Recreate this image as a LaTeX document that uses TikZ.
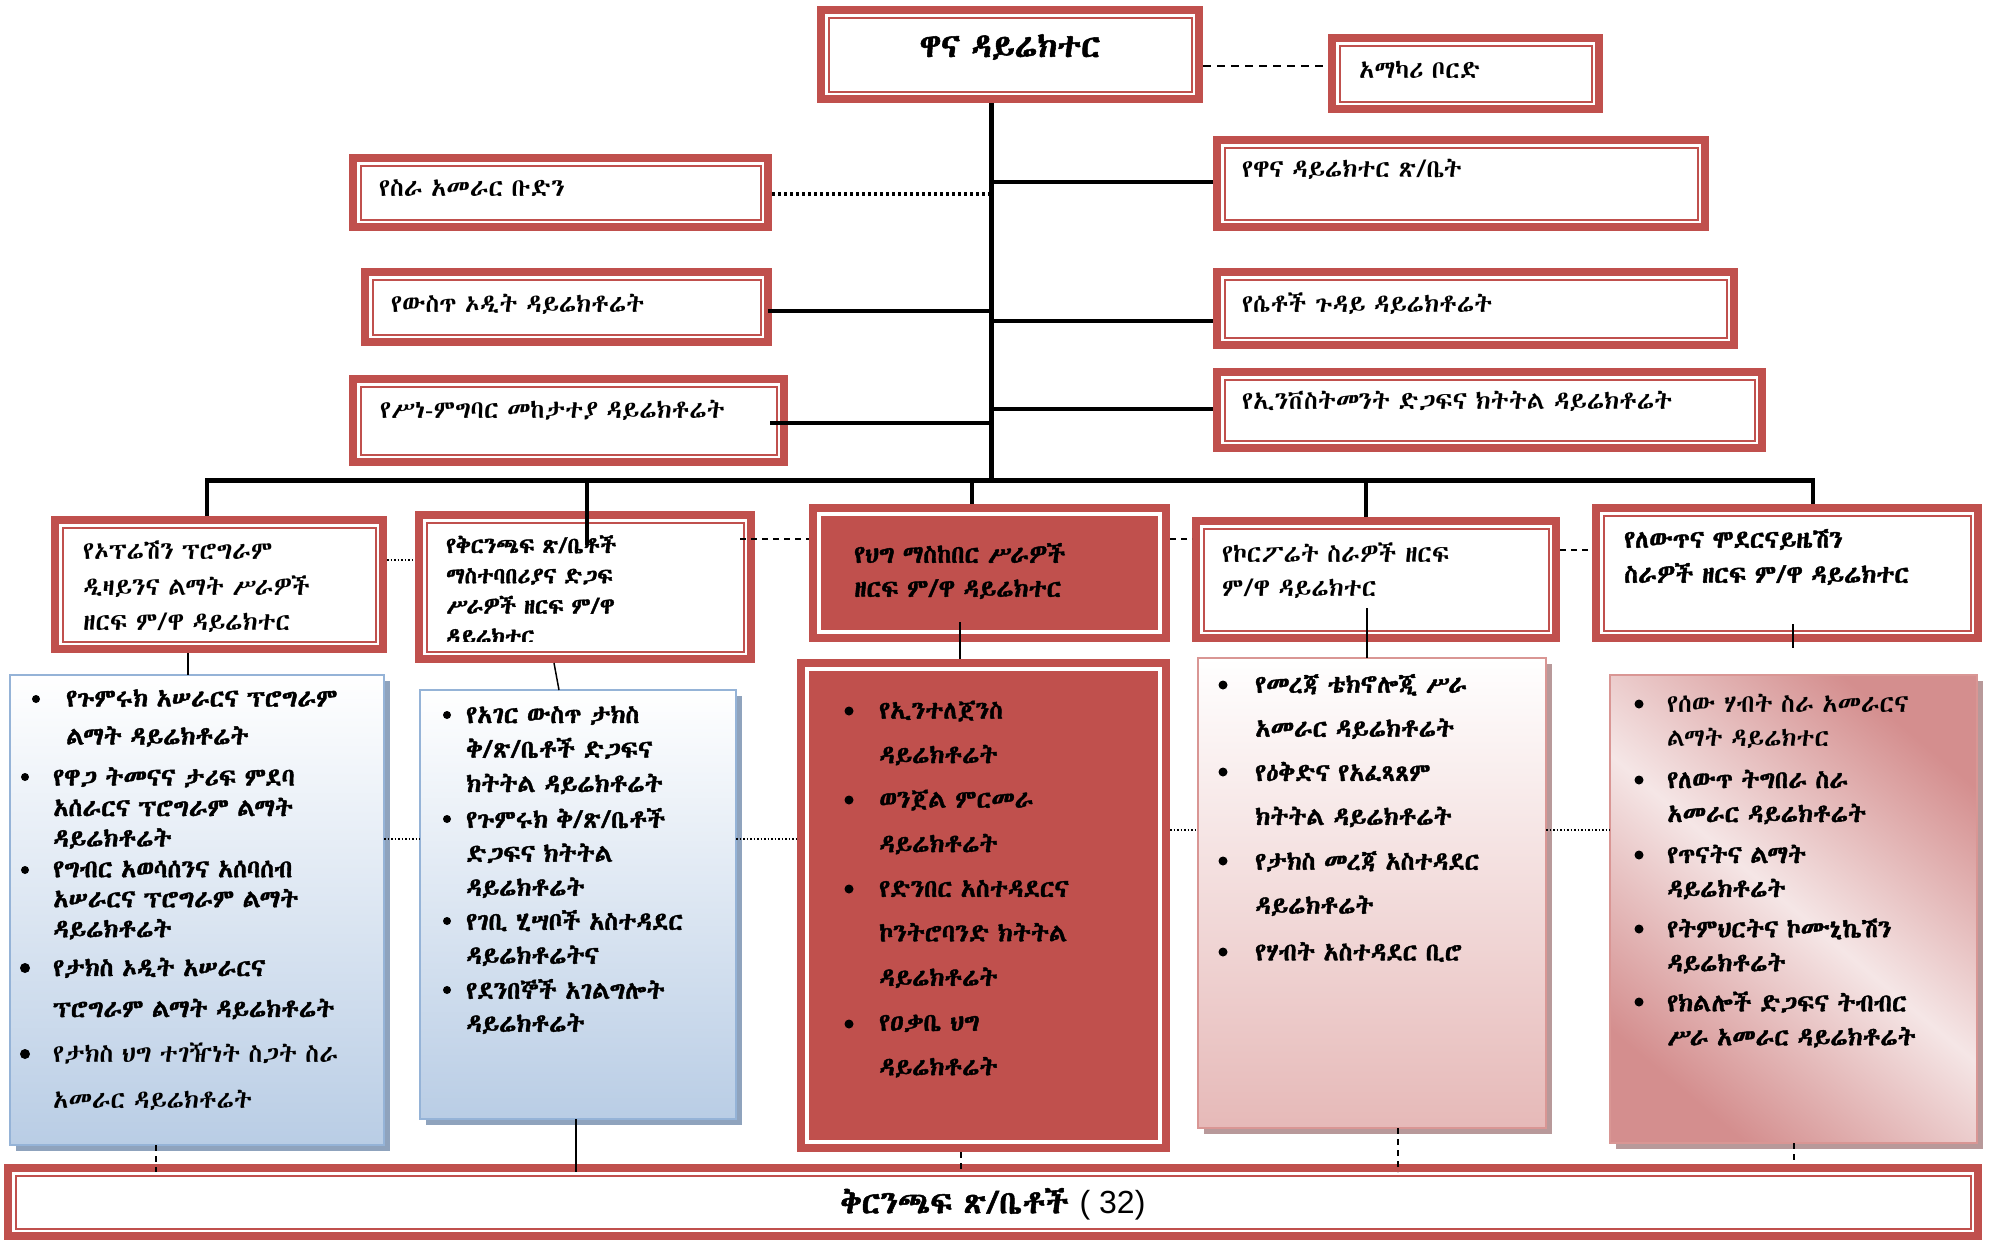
\documentclass[tikz,border=0pt]{standalone}
\usepackage{fontspec}
\usetikzlibrary{fit,calc}
\IfFontExistsTF{Abyssinica SIL}{\newfontfamily\eth[AutoFakeBold=1.6,WordSpace=0.75]{Abyssinica SIL}}{%
 \IfFontExistsTF{FreeSerif}{\newfontfamily\eth[AutoFakeBold=1.6,WordSpace=0.75]{FreeSerif}}{\newfontfamily\eth{DejaVu Sans}}}
\newfontfamily\lat{Liberation Sans}
\definecolor{cred}{HTML}{C0504D}
\definecolor{bluebot}{HTML}{B9CDE5}
\definecolor{blueedge}{HTML}{95B3D7}
\definecolor{blueshadow}{HTML}{8FA3BD}
\definecolor{pinkbot}{HTML}{E6B9B8}
\definecolor{pinkedge}{HTML}{D99694}
\definecolor{pinkshadow}{HTML}{B8999A}
\definecolor{rosedark}{HTML}{D48E8E}
\definecolor{roselight}{HTML}{F5E6E6}
\newcommand\dfr[1]{%
 \fill[cred] (#1.north west) rectangle (#1.south east);
 \fill[white] ([xshift=8pt,yshift=-8pt]#1.north west) rectangle ([xshift=-8pt,yshift=8pt]#1.south east);
 \fill[cred] ([xshift=10.5pt,yshift=-10.5pt]#1.north west) rectangle ([xshift=-10.5pt,yshift=10.5pt]#1.south east);
 \fill[white] ([xshift=12.5pt,yshift=-12.5pt]#1.north west) rectangle ([xshift=-12.5pt,yshift=12.5pt]#1.south east);}
\newcommand\ffr[1]{%
 \fill[cred] (#1.north west) rectangle (#1.south east);
 \fill[white] ([xshift=8pt,yshift=-8pt]#1.north west) rectangle ([xshift=-8pt,yshift=8pt]#1.south east);
 \fill[cred] ([xshift=12pt,yshift=-12pt]#1.north west) rectangle ([xshift=-12pt,yshift=12pt]#1.south east);}
\newcommand\shadowbox[2]{%
 \fill[#2] ([xshift=6pt,yshift=-6pt]#1.north west) rectangle ([xshift=6pt,yshift=-6pt]#1.south east);}
\begin{document}
\begin{tikzpicture}[x=1pt,y=-1pt,
 bx/.style={inner sep=0pt, outer sep=0pt, draw=none},
 bt/.style={inner sep=0pt, anchor=west, align=left, font=\eth\fontsize{25}{#1}\selectfont},
 bt/.default=34,
 bbt/.style={inner sep=0pt, anchor=west, align=left, font=\eth\bfseries\fontsize{25}{#1}\selectfont},
 bbt/.default=34,
 thickln/.style={line width=5pt},
 brln/.style={line width=4pt},
 thinln/.style={line width=1.5pt},
 dsh/.style={line width=1.6pt, dash pattern=on 6pt off 5pt},
 dotl/.style={line width=1.5pt, dash pattern=on 1.5pt off 2pt}]
\useasboundingbox (0,0) rectangle (1992,1242);
\fill[white] (0,0) rectangle (1992,1242);

% ---------- boxes ----------
\node[bx, fit={(817,6) (1203,103)}] (T) {};
\node[bx, fit={(1328,34) (1603,113)}] (AB) {};
\node[bx, fit={(349,154) (772,231)}] (SA) {};
\node[bx, fit={(1213,136) (1709,231)}] (WD) {};
\node[bx, fit={(361,268) (772,346)}] (UA) {};
\node[bx, fit={(1213,268) (1738,349)}] (SE) {};
\node[bx, fit={(349,375) (788,466)}] (SN) {};
\node[bx, fit={(1213,368) (1766,452)}] (IN) {};
\node[bx, fit={(51,516) (387,653)}] (B1) {};
\node[bx, fit={(415,511) (755,663)}] (B2) {};
\node[bx, fit={(809,504) (1170,642)}] (B3) {};
\node[bx, fit={(1192,517) (1560,642)}] (B4) {};
\node[bx, fit={(1592,504) (1982,642)}] (B5) {};
\node[bx, fit={(10,675) (384,1145)}] (L1) {};
\node[bx, fit={(420,690) (736,1119)}] (L2) {};
\node[bx, fit={(797,659) (1170,1152)}] (L3) {};
\node[bx, fit={(1198,658) (1546,1128)}] (L4) {};
\node[bx, fit={(1610,675) (1977,1143)}] (L5) {};
\node[bx, fit={(4,1164) (1982,1240)}] (BOT) {};

\dfr{T}\dfr{AB}\dfr{SA}\dfr{WD}\dfr{UA}\dfr{SE}\dfr{SN}\dfr{IN}
\dfr{B1}\dfr{B2}\ffr{B3}\dfr{B4}\dfr{B5}\ffr{L3}\dfr{BOT}

\shadowbox{L1}{blueshadow}
\shadedraw[top color=white, bottom color=bluebot, draw=blueedge, line width=2pt] (L1.north west) rectangle (L1.south east);
\shadowbox{L2}{blueshadow}
\shadedraw[top color=white, bottom color=bluebot, draw=blueedge, line width=2pt] (L2.north west) rectangle (L2.south east);
\shadowbox{L4}{pinkshadow}
\shadedraw[top color=white, bottom color=pinkbot, draw=pinkedge, line width=2pt] (L4.north west) rectangle (L4.south east);
\shadowbox{L5}{pinkshadow}
\shadedraw[top color=rosedark, bottom color=rosedark, middle color=roselight, shading angle=-40, draw=pinkedge, line width=2pt] (L5.north west) rectangle (L5.south east);

% ---------- connectors ----------
\coordinate (busj) at (991,480);
\coordinate (busL) at (207,480);
\coordinate (busR) at (1813,480);
\coordinate (d2) at (587,480);
\coordinate (d3) at (972,480);
\coordinate (d4) at (1366,480);
\draw[line width=2.5pt, dash pattern=on 8pt off 6pt] (T.east |- 0,66) -- (AB.west |- 0,66);
\draw[thickln] (T.south -| busj) -- (busj);
\draw[thickln] ([xshift=-2pt]busL) -- ([xshift=2pt]busR);
\draw[line width=4pt, dash pattern=on 3pt off 3pt] (SA.east |- 0,194) -- (busj |- 0,194);
\draw[brln] (busj |- 0,182) -- (WD.west |- 0,182);
\draw[brln] ([xshift=-4pt]UA.east |- 0,311) -- (busj |- 0,311);
\draw[brln] (busj |- 0,321) -- (SE.west |- 0,321);
\draw[brln] ([xshift=-18pt]SN.east |- 0,423) -- (busj |- 0,423);
\draw[brln] (busj |- 0,409) -- (IN.west |- 0,409);
\draw[brln] (busL) -- (B1.north -| busL);
\draw[brln] (d2) -- ($(B2.north -| d2)+(0,34)$);
\draw[brln] (d3) -- (B3.north -| d3);
\draw[brln] (d4) -- (B4.north -| d4);
\draw[brln] (busR) -- (B5.north -| busR);
\draw[dotl] (B1.east |- 0,560) -- (B2.west |- 0,560);
\draw[dsh] ([xshift=-15pt]B2.east |- 0,539) -- (B3.west |- 0,539);
\draw[dsh] (B3.east |- 0,539) -- (B4.west |- 0,539);
\draw[dsh] (B4.east |- 0,550) -- (B5.west |- 0,550);
\draw[thinln] (B1.south -| 188,0) -- (L1.north -| 188,0);
\draw[thinln] (B2.south -| 554,0) -- (L2.north -| 559,0);
\draw[thinln] ($(B3.south -| 960,0)+(0,-20)$) -- (L3.north -| 960,0);
\draw[thinln] ($(B4.south -| 1367,0)+(0,-34)$) -- (L4.north -| 1367,0);
\coordinate (e5) at (1793,648);
\draw[thinln] ($(B5.south -| e5)+(0,-18)$) -- (e5);
\draw[dotl] (L1.east |- 0,839) -- (L2.west |- 0,839);
\draw[dotl] (L2.east |- 0,839) -- (L3.west |- 0,839);
\draw[dotl] (L3.east |- 0,830) -- (L4.west |- 0,830);
\draw[dotl] (L4.east |- 0,830) -- (L5.west |- 0,830);
\draw[dsh] (L1.south -| 156,0) -- ($(BOT.north -| 156,0)+(0,8)$);
\draw[thinln] (L2.south -| 576,0) -- ($(BOT.north -| 576,0)+(0,8)$);
\draw[dsh] (L3.south -| 961,0) -- ($(BOT.north -| 961,0)+(0,8)$);
\draw[dsh] (L4.south -| 1398,0) -- ($(BOT.north -| 1398,0)+(0,8)$);
\draw[dsh] (L5.south -| 1794,0) -- (BOT.north -| 1794,0);

% ---------- texts ----------
\node[inner sep=0pt, font=\eth\bfseries\fontsize{33}{38}\selectfont] (tT) at (1010,47) {ዋና ዳይሬክተር};
\node[bt] (tAB) at (1359,70) {አማካሪ ቦርድ};
\node[bt] (tSA) at (379,188) {የስራ አመራር ቡድን};
\node[bt] (tWD) at (1242,169) {የዋና ዳይሬክተር ጽ/ቤት};
\node[bt] (tUA) at (391,304) {የውስጥ ኦዲት ዳይሬክቶሬት};
\node[bt] (tSE) at (1242,304) {የሴቶች ጉዳይ ዳይሬክቶሬት};
\node[bt] (tSN) at (380,410) {የሥነ-ምግባር መከታተያ ዳይሬክቶሬት};
\node[bt] (tIN) at (1242,401) {የኢንቨስትመንት ድጋፍና ክትትል ዳይሬክቶሬት};
\node[bt=35.5] (tB1) at (83,587) {የኦፕሬሽን ፕሮግራም\\ዲዛይንና ልማት ሥራዎች\\ዘርፍ ም/ዋ ዳይሬክተር};
\begin{scope}
\clip (420,520) rectangle (750,641);
\node[inner sep=0pt, anchor=west, align=left, font=\eth\bfseries\fontsize{22.5}{30.3}\selectfont] (tB2) at (446,590.5) {የቅርንጫፍ ጽ/ቤቶች\\ማስተባበሪያና ድጋፍ\\ሥራዎች ዘርፍ ም/ዋ\\ዳይሬክተር};
\end{scope}
\node[bbt=34] (tB3) at (854,571) {የህግ ማስከበር ሥራዎች\\ዘርፍ ም/ዋ ዳይሬክተር};
\node[bt=34] (tB4) at (1222,571) {የኮርፖሬት ስራዎች ዘርፍ\\ም/ዋ ዳይሬክተር};
\node[bbt=35] (tB5) at (1624,557) {የለውጥና ሞደርናይዜሽን\\ስራዎች ዘርፍ ም/ዋ ዳይሬክተር};

% L1
\fill (36,699) circle (4); \node[bbt=38] (l1a) at (66,718) {የጉምሩክ አሠራርና ፕሮግራም\\ልማት ዳይሬክቶሬት};
\fill (25,777) circle (4); \node[bbt=30.5] (l1b) at (53,808) {የዋጋ ትመናና ታሪፍ ምደባ\\አሰራርና ፕሮግራም ልማት\\ዳይሬክቶሬት};
\fill (25,870) circle (4); \node[bbt=30] (l1c) at (53,900) {የግብር አወሳሰንና አሰባሰብ\\አሠራርና ፕሮግራም ልማት\\ዳይሬክቶሬት};
\fill (25,968) circle (5); \node[bbt=41] (l1d) at (53,988.5) {የታክስ ኦዲት አሠራርና\\ፕሮግራም ልማት ዳይሬክቶሬት};
\fill (25,1054) circle (5); \node[bt=46] (l1e) at (53,1077) {የታክስ ህግ ተገዥነት ስጋት ስራ\\አመራር ዳይሬክቶሬት};
% L2
\fill (447,715) circle (4); \node[bbt=34.5] (l2a) at (466,750) {የአገር ውስጥ ታክስ\\ቅ/ጽ/ቤቶች ድጋፍና\\ክትትል ዳይሬክቶሬት};
\fill (447,819) circle (4); \node[bbt=34] (l2b) at (466,853) {የጉምሩክ ቅ/ጽ/ቤቶች\\ድጋፍና ክትትል\\ዳይሬክቶሬት};
\fill (447,921) circle (4); \node[bbt=34] (l2c) at (466,938) {የገቢ ሂሣቦች አስተዳደር\\ዳይሬክቶሬትና};
\fill (447,990) circle (4); \node[bbt=33] (l2d) at (466,1006.5) {የደንበኞች አገልግሎት\\ዳይሬክቶሬት};
% L3
\fill (849,711) circle (4.5); \node[bbt=44.5] (l3a) at (879,733) {የኢንተለጀንስ\\ዳይሬክቶሬት};
\fill (849,800) circle (4.5); \node[bbt=44.5] (l3b) at (879,822) {ወንጀል ምርመራ\\ዳይሬክቶሬት};
\fill (849,889) circle (4.5); \node[bbt=44.5] (l3c) at (879,934) {የድንበር አስተዳደርና\\ኮንትሮባንድ ክትትል\\ዳይሬክቶሬት};
\fill (849,1024) circle (4.5); \node[bbt=44.5] (l3d) at (879,1046) {የዐቃቤ ህግ\\ዳይሬክቶሬት};
% L4
\fill (1223,685) circle (4.5); \node[bbt=44] (l4a) at (1255,706.5) {የመረጃ ቴክኖሎጂ ሥራ\\አመራር ዳይሬክቶሬት};
\fill (1223,772) circle (4.5); \node[bbt=44] (l4b) at (1255,794.5) {የዕቅድና የአፈጻጸም\\ክትትል ዳይሬክቶሬት};
\fill (1223,861) circle (4.5); \node[bbt=44] (l4c) at (1255,883.5) {የታክስ መረጃ አስተዳደር\\ዳይሬክቶሬት};
\fill (1223,952) circle (4.5); \node[bbt=44] (l4d) at (1255,952) {የሃብት አስተዳደር ቢሮ};
% L5
\fill (1639,704) circle (4.5); \node[bt=34] (l5a) at (1667,721) {የሰው ሃብት ስራ አመራርና\\ልማት ዳይሬክተር};
\fill (1639,780) circle (4.5); \node[bbt=34] (l5b) at (1667,797) {የለውጥ ትግበራ ስራ\\አመራር ዳይሬክቶሬት};
\fill (1639,855) circle (4.5); \node[bbt=34] (l5c) at (1667,872) {የጥናትና ልማት\\ዳይሬክቶሬት};
\fill (1639,929) circle (4.5); \node[bbt=34] (l5d) at (1667,946) {የትምህርትና ኮሙኒኬሽን\\ዳይሬክቶሬት};
\fill (1639,1002) circle (4.5); \node[bbt=34] (l5e) at (1667,1019.5) {የክልሎች ድጋፍና ትብብር\\ሥራ አመራር ዳይሬክቶሬት};

\node[inner sep=0pt, font=\eth\bfseries\fontsize{32}{38}\selectfont] (tBOT) at (993,1204) {ቅርንጫፍ ጽ/ቤቶች {\lat\mdseries ( 32)}};
\end{tikzpicture}
\end{document}
